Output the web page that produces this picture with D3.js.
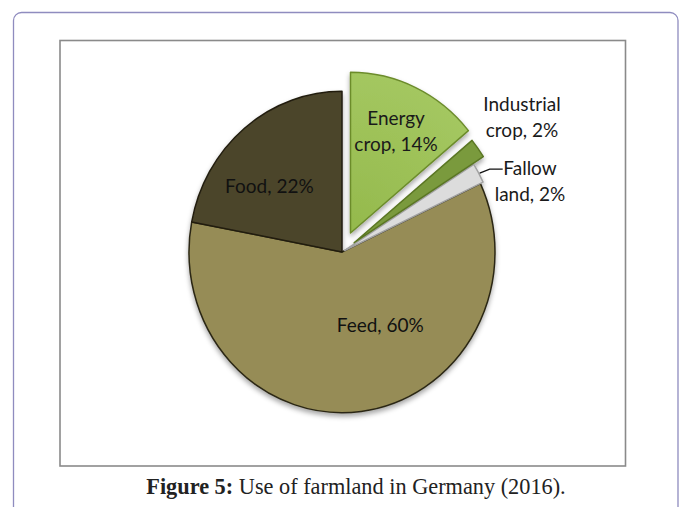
<!DOCTYPE html>
<html>
<head>
<meta charset="utf-8">
<script src="https://cdn.jsdelivr.net/npm/d3@7"></script>
<style>
  html, body { margin: 0; padding: 0; background: #fff; }
  svg { display: block; }
</style>
</head>
<body>
<svg id="chart" width="686" height="507"></svg>
<script>
// Farmland use in Germany, 2016 (share of total, %)
const categories = ["Energy crop", "Industrial crop", "Fallow land", "Feed", "Food"];
const values = [14, 2, 2, 60, 22];
const labelLines = [
  ["Energy", "crop, 14%"],
  ["Industrial", "crop, 2%"],
  ["Fallow", "land, 2%"],
  ["Feed, 60%"],
  ["Food, 22%"]
];
const captionBold = "Figure 5:";
const captionText = " Use of farmland in Germany (2016).";

// Styling per slice
const fills   = ["#9ec25a", "#7a9a3c", "#dcdcdc", "#968c56", "#4b442c"];
const strokes = ["#6c8c2c", "#5a7624", "#a2a2a2", "#2c2814", "#221e10"];
const pullOut = [20, 15, 3, 0, 0];

const svg = d3.select("#chart");

// Page frame and figure frame
svg.append("rect")
  .attr("x", 13.5).attr("y", 12.5).attr("width", 664.5).attr("height", 520)
  .attr("rx", 8).attr("ry", 8)
  .attr("fill", "#fff").attr("stroke", "#8f8cbf").attr("stroke-width", 1.3);

svg.append("rect")
  .attr("x", 60).attr("y", 40.5).attr("width", 565.5).attr("height", 425.5)
  .attr("fill", "#fff").attr("stroke", "#8a8a8a").attr("stroke-width", 1.6);

const defs = svg.append("defs");
const shadow = defs.append("filter").attr("id", "shadow")
  .attr("x", "-20%").attr("y", "-20%").attr("width", "140%").attr("height", "140%");
shadow.append("feDropShadow")
  .attr("dx", 0).attr("dy", 3).attr("stdDeviation", 2.5)
  .attr("flood-color", "#000").attr("flood-opacity", 0.35);

const energyGrad = defs.append("radialGradient").attr("id", "energyGrad")
  .attr("gradientUnits", "userSpaceOnUse")
  .attr("cx", 0).attr("cy", 0).attr("r", 175);
energyGrad.append("stop").attr("offset", "0%").attr("stop-color", "#94b94c");
energyGrad.append("stop").attr("offset", "100%").attr("stop-color", "#a6c963");

const cx = 342, cy = 252, R = 153, yScale = 1.05;

const pie = d3.pie().sort(null).value(d => d)(values);
const arc = d3.arc().innerRadius(0).outerRadius(R);

const g = svg.append("g")
  .attr("transform", `translate(${cx},${cy}) scale(1,${yScale})`)
  .attr("filter", "url(#shadow)");

function offset(d, i) {
  const a = (d.startAngle + d.endAngle) / 2;
  return [Math.sin(a) * pullOut[i], -Math.cos(a) * pullOut[i]];
}

// Draw the big slices first, then the pulled-out ones on top
const order = [3, 4, 2, 1, 0];
g.selectAll("path.slice")
  .data(order.map(i => ({ d: pie[i], i })))
  .join("path")
  .attr("class", "slice")
  .attr("transform", o => { const [dx, dy] = offset(o.d, o.i); return `translate(${dx},${dy})`; })
  .attr("d", o => arc(o.d))
  .attr("fill", o => o.i === 0 ? "url(#energyGrad)" : fills[o.i])
  .attr("stroke", o => strokes[o.i])
  .attr("stroke-width", 1.5)
  .attr("stroke-linejoin", "round")
  .attr("vector-effect", "non-scaling-stroke");

// Convert a polar point (angle, radius) around the pie into page coordinates
function toPage(angle, r, extra) {
  return [cx + Math.sin(angle) * (r + extra), cy - Math.cos(angle) * (r + extra) * yScale];
}

const font = "Lato, 'Open Sans', sans-serif";
const lineH = 26;

// Label anchor: radius (in pie units) along a chosen angle, plus pixel nudge
const labelSpec = [
  { angleShift: 0,     r: 107, dx: 0, dy: 0, color: "#1a1a1a" },
  { angleShift: 0,     r: 205, dx: 0, dy: 0, color: "#1a1a1a" },
  { angleShift: 0,     r: 200, dx: 0, dy: 0, color: "#1a1a1a" },
  { angleShift: -0.38, r: 79,  dx: 0, dy: 0, color: "#111" },
  { angleShift: -0.22, r: 102, dx: 8, dy: 0, color: "#111" }
];

pie.forEach((d, i) => {
  const s = labelSpec[i];
  const mid = (d.startAngle + d.endAngle) / 2 + s.angleShift;
  let [x, y] = toPage(mid, s.r, pullOut[i]);
  if (i === 1) { x = cx + 180; y = cy - 135; }
  if (i === 2) { x = cx + 188; y = cy - 71.5; }
  const lines = labelLines[i];
  const t = svg.append("text")
    .attr("x", x + s.dx)
    .attr("font-family", font)
    .attr("font-size", 19)
    .attr("fill", s.color)
    .attr("text-anchor", "middle");
  lines.forEach((ln, k) => {
    t.append("tspan")
      .attr("x", x + s.dx)
      .attr("y", y + s.dy + (k - (lines.length - 1) / 2) * lineH + 7)
      .text(ln);
  });
});

// Leader line for the fallow-land label
{
  const d = pie[2];
  const mid = (d.startAngle + d.endAngle) / 2;
  const [x0, y0] = toPage(mid, R, pullOut[2]);
  svg.append("polyline")
    .attr("points", [[x0 + 1, y0], [x0 + 11, y0 - 4], [x0 + 24, y0 - 4]].map(p => p.join(",")).join(" "))
    .attr("fill", "none").attr("stroke", "#111").attr("stroke-width", 1.3);
}

// Caption
const cap = svg.append("text")
  .attr("x", 356).attr("y", 494)
  .attr("text-anchor", "middle")
  .attr("font-family", "'Liberation Serif', 'Times New Roman', serif")
  .attr("font-size", 22.3)
  .attr("fill", "#222");
cap.append("tspan").attr("font-weight", "bold").text(captionBold);
cap.append("tspan").text(captionText);
</script>
</body>
</html>
